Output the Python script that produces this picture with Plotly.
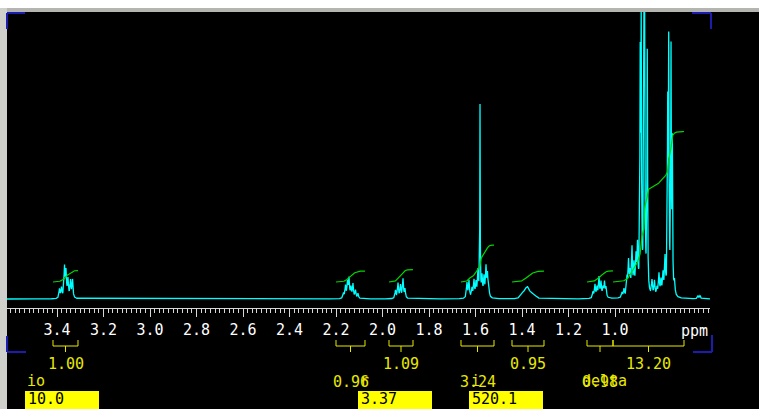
import numpy as np
import plotly.graph_objects as go

# ---------------- data ----------------
# peak list: chemical shift (ppm), intensity, half width (ppm)
peak_ppm = [
    3.3892, 3.3806, 3.3677, 3.3613, 3.3527, 3.3419, 3.3333,
    2.1677, 2.1591, 2.1505, 2.1441, 2.1355, 2.1269, 2.1161, 2.1054,
    1.9441, 1.9333, 1.9226, 1.9118, 1.9032,
    1.6366, 1.6280, 1.6151, 1.6065, 1.5978, 1.5892, 1.5806, 1.5720, 1.5634, 1.5548, 1.5484, 1.5419,
    1.4043, 1.3957, 1.3900, 1.3828, 1.3785, 1.3742, 1.3699, 1.3613, 1.3527, 1.3441, 1.3355,
    1.0946, 1.0860, 1.0774, 1.0688, 1.0602, 1.0516, 1.0452, 1.0387,
    0.9699, 0.9613, 0.9484, 0.9419, 0.9355, 0.9269, 0.9183, 0.9097, 0.9032,
    0.8916, 0.8873, 0.8740, 0.8611,
    0.8409, 0.8301, 0.8194, 0.8108, 0.8022, 0.7935, 0.7849,
    0.7733, 0.7690, 0.7591, 0.7535,
    0.7441, 0.6430, 0.6344,
]
peak_height = [
    9, 10, 30, 25, 18, 17, 18,
    5, 12, 15, 19, 10, 14, 8, 5,
    8, 15, 13, 19, 9,
    15, 17, 9, 17, 14, 26, 190, 20, 19, 29, 22, 6,
    2.5, 4, 3, 5, 4, 5, 4, 4, 3, 2, 1,
    6, 13, 10, 20, 15, 9, 15, 10,
    5, 8, 17, 33, 20, 46, 28, 34, 45,
    220, 260, 650, 240,
    15, 15, 8, 22, 15, 21, 36,
    175, 240, 240, 145,
    13, 3, 3,
]
peak_hwhm = (
    [0.0025] * 7 + [0.0025] * 8 + [0.0025] * 5
    + [0.0025] * 6 + [0.0010] + [0.0025] * 5
    + [0.005] * 11
    + [0.0025] * 8
    + [0.0025] * 9
    + [0.0015] * 4
    + [0.0025] * 7
    + [0.0015] * 4
    + [0.0025] * 3
)

# integral regions (ppm, high -> low) and integral values
region_hi = [3.4172, 2.2000, 1.9720, 1.6624, 1.4430, 1.1204, 1.0086]
region_lo = [3.3097, 2.0753, 1.8688, 1.5204, 1.3054, 1.0086, 0.7032]
integral_value = [1.00, 0.96, 1.09, 3.24, 0.95, 0.98, 13.20]
integral_text = ["1.00", "0.96", "1.09", "3.24", "0.95", "0.98", "13.20"]
integral_row = [1, 2, 1, 2, 1, 2, 1]

# axis tick labels
tick_labels = ["3.4", "3.2", "3.0", "2.8", "2.6", "2.4", "2.2",
               "2.0", "1.8", "1.6", "1.4", "1.2", "1.0"]

# parameter boxes
box_label = ["io", "r", "i"]
box_value = ["10.0", "3.37", "520.1"]
extra_label = "delta"

# ---------------- geometry ----------------
W, H = 759, 409
ML, MR, MT, MB = 7, 49, 12, 101
PW, PH = W - ML - MR, H - MT - MB
X_LEFT, X_RIGHT = 3.61505, 0.5914
Y_LOW, Y_HIGH = -9, 287


def px(xp):
    return (xp - ML) / PW


def py(yp):
    return (H - MB - yp) / PH


# ---------------- spectrum ----------------
ppm = np.arange(X_RIGHT, X_LEFT, 0.0002)
spec = np.zeros_like(ppm)
for c, h, w in zip(peak_ppm, peak_height, peak_hwhm):
    spec += h / (1.0 + ((ppm - c) / w) ** 2)

CYAN = "#00ffff"
GREEN = "#00d800"
YEL = "#e8e800"
BOXY = "#ffff00"
BLUE = "#1c1cb0"
FONT = "DejaVu Sans Mono"

fig = go.Figure()
fig.add_trace(go.Scatter(x=ppm, y=spec, mode="lines",
                         line=dict(color=CYAN, width=1.3),
                         hoverinfo="skip", showlegend=False))

# integrals
INT_OFF, INT_SCALE = 17, 11.4
for hi, lo, val in zip(region_hi, region_lo, integral_value):
    m = (ppm >= lo) & (ppm <= hi)
    xs = ppm[m][::-1]
    ys = spec[m][::-1]
    cum = np.cumsum(ys)
    cum = cum / cum[-1]
    fig.add_trace(go.Scatter(x=xs, y=INT_OFF + cum * val * INT_SCALE, mode="lines",
                             line=dict(color=GREEN, width=1.2),
                             hoverinfo="skip", showlegend=False))

shapes = []
annotations = []

# brackets
for hi, lo, txt, row in zip(region_hi, region_lo, integral_text, integral_row):
    mid = (hi + lo) / 2
    ln = dict(color=YEL, width=1)
    shapes.append(dict(type="line", xref="x", yref="paper", x0=hi, x1=lo,
                       y0=py(346), y1=py(346), line=ln))
    shapes.append(dict(type="line", xref="x", yref="paper", x0=hi, x1=hi,
                       y0=py(340), y1=py(346), line=ln))
    shapes.append(dict(type="line", xref="x", yref="paper", x0=lo, x1=lo,
                       y0=py(340), y1=py(346), line=ln))
    shapes.append(dict(type="line", xref="x", yref="paper", x0=mid, x1=mid,
                       y0=py(346), y1=py(352), line=ln))
    annotations.append(dict(x=mid, xref="x", y=py(364 if row == 1 else 382), yref="paper",
                            text=txt, showarrow=False, xanchor="center", yanchor="middle",
                            font=dict(family=FONT, size=15, color=YEL)))

# parameter boxes
box_x = [25, 358, 469]
for bx, lab, val in zip(box_x, box_label, box_value):
    shapes.append(dict(type="rect", xref="paper", yref="paper",
                       x0=px(bx), x1=px(bx + 74), y0=py(391), y1=py(409),
                       fillcolor=BOXY, line=dict(width=0)))
    annotations.append(dict(x=px(bx), xref="paper", y=py(381), yref="paper",
                            text=lab, showarrow=False, xanchor="left", yanchor="middle",
                            font=dict(family=FONT, size=15, color=YEL)))
    annotations.append(dict(x=px(bx + 1), xref="paper", y=py(399), yref="paper",
                            text=val, showarrow=False, xanchor="left", yanchor="middle",
                            font=dict(family=FONT, size=15, color="black")))
annotations.append(dict(x=px(580), xref="paper", y=py(381), yref="paper",
                        text=extra_label, showarrow=False, xanchor="left", yanchor="middle",
                        font=dict(family=FONT, size=15, color=YEL)))
annotations.append(dict(x=px(679), xref="paper", y=py(331), yref="paper",
                        text="ppm", showarrow=False, xanchor="left", yanchor="middle",
                        font=dict(family=FONT, size=15, color="white")))

# frame strips
shapes.append(dict(type="rect", xref="paper", yref="paper", x0=px(0), x1=px(W),
                   y0=py(0), y1=py(8), fillcolor="#ffffff", line=dict(width=0)))
shapes.append(dict(type="rect", xref="paper", yref="paper", x0=px(0), x1=px(W),
                   y0=py(8), y1=py(12), fillcolor="#b4b4b0", line=dict(width=0)))
shapes.append(dict(type="rect", xref="paper", yref="paper", x0=px(0), x1=px(7),
                   y0=py(8), y1=py(H), fillcolor="#cfcfcb", line=dict(width=0)))

# blue corner marks
bl = dict(color=BLUE, width=2)
for (x0, y0, x1, y1) in [(7, 13, 25, 13), (7, 13, 7, 29), (692, 13, 711, 13), (711, 13, 711, 29),
                         (7, 352, 26, 352), (7, 336, 7, 352), (693, 352, 712, 352), (712, 335, 712, 352)]:
    shapes.append(dict(type="line", xref="paper", yref="paper",
                       x0=px(x0), x1=px(x1), y0=py(y0), y1=py(y1), line=bl))

# ticks
major_vals = [round(3.6 - 0.1 * i, 1) for i in range(31)]
major_text = [f"{v:.1f}" if f"{v:.1f}" in tick_labels else "" for v in major_vals]
minor_vals = [round(3.6 - 0.02 * i, 2) for i in range(151)]

fig.update_layout(
    width=W, height=H,
    margin=dict(l=ML, r=MR, t=MT, b=MB, pad=0),
    paper_bgcolor="black", plot_bgcolor="black",
    shapes=shapes, annotations=annotations,
    xaxis=dict(range=[X_LEFT, X_RIGHT], showgrid=False, zeroline=False,
               showline=True, linecolor="#d8d8d8", linewidth=1,
               tickmode="array", tickvals=major_vals, ticktext=major_text,
               ticks="outside", ticklen=8, tickwidth=1, tickcolor="#d8d8d8",
               ticklabelstandoff=0,
               tickfont=dict(family=FONT, size=15, color="white"),
               minor=dict(tickmode="array", tickvals=minor_vals, ticks="outside",
                          ticklen=4, tickwidth=1, tickcolor="#d8d8d8", showgrid=False),
               fixedrange=True),
    yaxis=dict(range=[Y_LOW, Y_HIGH], visible=False, fixedrange=True),
)

fig.write_html("out.html")
